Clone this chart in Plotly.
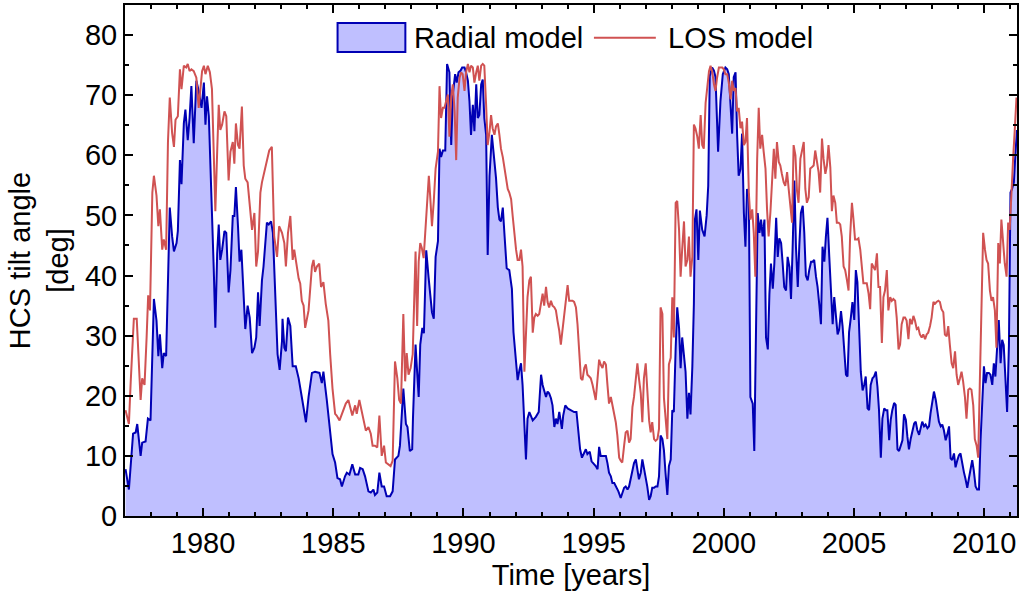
import plotly.graph_objects as go

# ---------------- data ----------------
radial_year = [
    1977.02, 1977.15, 1977.31, 1977.41, 1977.47, 1977.54, 1977.60, 1977.66, 1977.79, 1977.88,
    1977.98, 1978.11, 1978.21, 1978.28, 1978.34, 1978.43, 1978.49, 1978.58, 1978.72, 1978.81,
    1978.88, 1978.98, 1979.03, 1979.11, 1979.17, 1979.26, 1979.32, 1979.41, 1979.48, 1979.55,
    1979.64, 1979.74, 1979.83, 1979.94, 1980.03, 1980.09, 1980.15, 1980.22, 1980.31, 1980.41,
    1980.47, 1980.54, 1980.60, 1980.66, 1980.73, 1980.82, 1980.89, 1980.98, 1981.05, 1981.14,
    1981.20, 1981.26, 1981.34, 1981.40, 1981.47, 1981.56, 1981.62, 1981.71, 1981.79, 1981.88,
    1981.97, 1982.04, 1982.11, 1982.17, 1982.26, 1982.32, 1982.45, 1982.52, 1982.61, 1982.68,
    1982.77, 1982.86, 1982.94, 1983.03, 1983.05, 1983.12, 1983.18, 1983.26, 1983.35, 1983.44,
    1983.56, 1983.67, 1983.79, 1983.86, 1983.95, 1984.05, 1984.18, 1984.30, 1984.47, 1984.56,
    1984.62, 1984.75, 1984.88, 1984.97, 1985.07, 1985.16, 1985.26, 1985.33, 1985.45, 1985.52,
    1985.62, 1985.73, 1985.84, 1985.96, 1986.03, 1986.13, 1986.22, 1986.35, 1986.44, 1986.54,
    1986.60, 1986.69, 1986.77, 1986.86, 1986.95, 1987.05, 1987.18, 1987.28, 1987.37, 1987.50,
    1987.56, 1987.69, 1987.79, 1987.85, 1987.94, 1988.03, 1988.06, 1988.16, 1988.22, 1988.28,
    1988.34, 1988.42, 1988.48, 1988.57, 1988.66, 1988.72, 1988.79, 1988.86, 1988.93, 1989.02,
    1989.08, 1989.14, 1989.21, 1989.30, 1989.37, 1989.46, 1989.53, 1989.59, 1989.68, 1989.74,
    1989.81, 1989.89, 1989.95, 1990.04, 1990.10, 1990.17, 1990.23, 1990.29, 1990.36, 1990.42,
    1990.49, 1990.55, 1990.61, 1990.68, 1990.74, 1990.80, 1990.87, 1990.93, 1991.00, 1991.09,
    1991.15, 1991.25, 1991.32, 1991.38, 1991.44, 1991.51, 1991.58, 1991.66, 1991.76, 1991.86,
    1991.92, 1992.02, 1992.08, 1992.15, 1992.21, 1992.27, 1992.34, 1992.40, 1992.46, 1992.53,
    1992.66, 1992.78, 1992.89, 1992.98, 1993.04, 1993.10, 1993.17, 1993.23, 1993.29, 1993.36,
    1993.42, 1993.49, 1993.55, 1993.61, 1993.68, 1993.74, 1993.78, 1993.83, 1993.91, 1994.00,
    1994.12, 1994.25, 1994.34, 1994.41, 1994.48, 1994.55, 1994.64, 1994.70, 1994.76, 1994.85,
    1994.92, 1994.99, 1995.08, 1995.15, 1995.21, 1995.27, 1995.34, 1995.40, 1995.47, 1995.53,
    1995.59, 1995.66, 1995.72, 1995.79, 1995.87, 1995.95, 1996.04, 1996.10, 1996.17, 1996.23,
    1996.30, 1996.36, 1996.42, 1996.49, 1996.55, 1996.62, 1996.68, 1996.74, 1996.81, 1996.87,
    1996.93, 1997.00, 1997.06, 1997.13, 1997.19, 1997.25, 1997.32, 1997.38, 1997.45, 1997.51,
    1997.57, 1997.64, 1997.70, 1997.76, 1997.83, 1997.89, 1997.96, 1998.02, 1998.08, 1998.15,
    1998.21, 1998.28, 1998.34, 1998.40, 1998.47, 1998.53, 1998.60, 1998.66, 1998.72, 1998.79,
    1998.85, 1998.89, 1998.95, 1999.02, 1999.08, 1999.17, 1999.26, 1999.34, 1999.40, 1999.46,
    1999.55, 1999.62, 1999.68, 1999.78, 1999.87, 1999.96, 2000.06, 2000.13, 2000.19, 2000.26,
    2000.32, 2000.38, 2000.45, 2000.51, 2000.57, 2000.64, 2000.70, 2000.77, 2000.83, 2000.89,
    2000.96, 2001.02, 2001.11, 2001.17, 2001.24, 2001.30, 2001.37, 2001.43, 2001.49, 2001.56,
    2001.62, 2001.69, 2001.75, 2001.81, 2001.88, 2001.94, 2002.01, 2002.07, 2002.13, 2002.20,
    2002.26, 2002.32, 2002.39, 2002.45, 2002.52, 2002.58, 2002.64, 2002.71, 2002.77, 2002.84,
    2002.90, 2002.96, 2003.03, 2003.09, 2003.15, 2003.22, 2003.28, 2003.35, 2003.41, 2003.47,
    2003.54, 2003.60, 2003.67, 2003.73, 2003.79, 2003.86, 2003.92, 2003.98, 2004.05, 2004.11,
    2004.18, 2004.24, 2004.30, 2004.37, 2004.43, 2004.50, 2004.56, 2004.62, 2004.69, 2004.75,
    2004.81, 2004.88, 2004.94, 2005.01, 2005.07, 2005.13, 2005.20, 2005.26, 2005.33, 2005.39,
    2005.45, 2005.52, 2005.58, 2005.64, 2005.71, 2005.77, 2005.84, 2005.90, 2005.96, 2006.03,
    2006.09, 2006.16, 2006.22, 2006.28, 2006.35, 2006.41, 2006.47, 2006.54, 2006.60, 2006.67,
    2006.73, 2006.79, 2006.86, 2006.92, 2006.99, 2007.05, 2007.11, 2007.18, 2007.24, 2007.31,
    2007.37, 2007.43, 2007.50, 2007.56, 2007.62, 2007.69, 2007.75, 2007.82, 2007.88, 2007.94,
    2008.01, 2008.07, 2008.14, 2008.20, 2008.26, 2008.33, 2008.39, 2008.45, 2008.52, 2008.58,
    2008.65, 2008.71, 2008.77, 2008.84, 2008.90, 2008.97, 2009.03, 2009.09, 2009.16, 2009.22,
    2009.28, 2009.35, 2009.41, 2009.48, 2009.54, 2009.60, 2009.67, 2009.73, 2009.80, 2009.86,
    2009.92, 2009.99, 2010.05, 2010.11, 2010.18, 2010.24, 2010.31, 2010.37, 2010.43, 2010.50,
    2010.56, 2010.63, 2010.69, 2010.75, 2010.82, 2010.88, 2010.95, 2011.01, 2011.07, 2011.14,
    2011.20, 2011.26,
]
radial_deg = [
    7.8, 4.4, 13.7, 13.9, 15.3, 11.7, 10.0, 12.2, 12.4, 16.2,
    15.9, 36.1, 32.5, 26.6, 30.2, 24.6, 27.1, 26.6, 51.3, 46.5,
    44.0, 45.4, 47.4, 59.2, 55.2, 65.3, 67.6, 62.5, 66.2, 71.5,
    62.0, 72.4, 70.7, 67.9, 72.1, 65.1, 69.8, 66.5, 55.5, 40.9,
    31.3, 43.7, 48.5, 42.6, 44.3, 47.4, 47.1, 37.2, 40.9, 49.9,
    49.9, 54.7, 48.2, 42.3, 44.3, 36.4, 31.1, 35.0, 33.0, 27.1,
    28.0, 29.7, 37.2, 31.6, 39.2, 41.5, 48.8, 48.5, 49.0, 47.1,
    35.3, 26.9, 24.3, 29.1, 32.8, 28.0, 27.4, 33.0, 31.6, 24.9,
    24.9, 22.9, 19.8, 18.1, 15.6, 19.8, 23.8, 24.0, 23.8, 22.1,
    24.0, 19.3, 14.5, 10.3, 8.9, 6.3, 6.1, 4.9, 6.6, 7.2,
    6.9, 8.6, 6.9, 6.9, 8.0, 7.8, 6.6, 4.1, 3.9, 4.4,
    3.5, 3.9, 7.2, 4.9, 4.9, 3.3, 3.3, 4.1, 9.4, 10.0,
    11.7, 21.2, 15.3, 14.8, 10.8, 11.1, 16.2, 28.5, 24.0, 19.8,
    28.5, 31.3, 30.4, 44.2, 39.7, 36.4, 33.9, 32.8, 43.1, 45.7,
    61.1, 59.7, 60.8, 60.8, 75.2, 73.8, 61.7, 70.1, 73.5, 72.1,
    73.8, 74.1, 74.6, 74.6, 73.8, 72.4, 69.0, 63.4, 68.4, 64.0,
    71.8, 66.2, 66.7, 71.8, 72.6, 66.2, 63.4, 43.4, 56.6, 63.4,
    60.6, 56.2, 51.3, 49.3, 49.0, 51.3, 46.5, 41.2, 40.9, 37.8,
    30.6, 25.6, 22.6, 24.3, 25.4, 21.8, 14.8, 9.4, 16.2, 17.3,
    15.9, 16.5, 17.3, 23.5, 21.8, 20.7, 19.8, 20.7, 20.4, 19.6,
    18.4, 14.8, 16.2, 15.3, 17.3, 15.6, 14.5, 16.7, 18.4, 17.9,
    17.6, 17.3, 17.3, 14.5, 11.1, 9.7, 10.7, 11.1, 10.3, 10.7,
    9.1, 8.8, 8.3, 7.8, 11.5, 10.0, 10.0, 10.0, 10.0, 8.8,
    7.2, 6.6, 5.5, 5.5, 4.9, 4.1, 3.0, 3.8, 4.7, 4.9,
    4.4, 4.9, 6.1, 7.2, 8.8, 9.4, 8.0, 6.1, 7.2, 9.4,
    8.0, 6.6, 4.9, 2.7, 3.3, 4.7, 4.7, 4.9, 4.9, 6.6,
    13.4, 12.8, 10.9, 7.2, 3.5, 8.3, 9.4, 17.6, 17.3, 28.0,
    34.7, 31.3, 24.6, 29.7, 27.1, 24.0, 16.2, 20.5, 16.9, 24.8,
    35.3, 49.3, 51.0, 42.6, 50.8, 47.6, 46.5, 50.0, 54.9, 73.2,
    74.6, 74.1, 73.0, 60.6, 69.0, 73.5, 74.6, 74.3, 73.5, 67.9,
    63.6, 73.0, 73.8, 63.4, 56.6, 57.7, 63.6, 50.4, 44.8, 54.4,
    53.3, 19.8, 18.7, 10.8, 36.7, 50.4, 47.1, 49.3, 46.5, 49.3,
    29.7, 27.7, 36.9, 42.0, 37.8, 42.0, 49.6, 43.1, 46.2, 45.4,
    42.0, 38.1, 37.5, 43.1, 41.4, 36.1, 44.2, 55.8, 44.8, 38.1,
    45.1, 50.4, 51.6, 47.1, 40.0, 39.2, 40.9, 42.3, 42.3, 42.6,
    39.8, 38.1, 35.0, 31.9, 44.8, 42.3, 46.5, 49.6, 43.1, 37.8,
    31.9, 36.4, 33.9, 30.2, 31.0, 34.1, 31.6, 28.0, 23.5, 23.2,
    30.6, 33.1, 35.6, 32.6, 40.9, 38.9, 31.3, 24.0, 20.9, 21.8,
    23.2, 17.9, 17.6, 21.8, 22.9, 23.2, 24.0, 21.5, 17.6, 9.7,
    16.2, 17.9, 17.6, 17.6, 12.6, 16.0, 17.6, 18.8, 18.5, 11.1,
    10.8, 11.7, 12.6, 16.9, 16.0, 13.2, 11.1, 12.9, 14.0, 15.4,
    15.7, 14.3, 13.5, 14.6, 15.7, 14.9, 15.2, 14.6, 14.9, 17.1,
    19.3, 20.7, 19.3, 17.3, 15.7, 14.9, 15.2, 14.3, 12.6, 13.5,
    14.9, 9.6, 9.3, 10.4, 8.1, 9.3, 10.1, 10.4, 8.4, 7.3,
    6.2, 4.7, 6.2, 7.9, 9.3, 7.6, 4.9, 4.4, 4.4, 12.6,
    19.8, 24.9, 22.1, 23.8, 23.8, 23.5, 21.8, 25.4, 23.2, 27.9,
    32.6, 25.4, 29.3, 28.4, 22.2, 17.3, 28.4, 53.8, 54.4, 55.5,
    60.3, 64.2,
]

los_year = [
    1977.02, 1977.15, 1977.22, 1977.28, 1977.34, 1977.45, 1977.54, 1977.60, 1977.66, 1977.75,
    1977.83, 1977.89, 1977.96, 1978.05, 1978.11, 1978.21, 1978.28, 1978.34, 1978.43, 1978.49,
    1978.58, 1978.65, 1978.72, 1978.81, 1978.88, 1978.94, 1979.03, 1979.11, 1979.17, 1979.26,
    1979.35, 1979.41, 1979.48, 1979.55, 1979.64, 1979.74, 1979.83, 1979.90, 1979.96, 1980.03,
    1980.09, 1980.18, 1980.26, 1980.34, 1980.41, 1980.47, 1980.54, 1980.60, 1980.66, 1980.73,
    1980.82, 1980.89, 1980.98, 1981.05, 1981.14, 1981.20, 1981.26, 1981.34, 1981.40, 1981.49,
    1981.56, 1981.62, 1981.71, 1981.79, 1981.88, 1981.97, 1982.04, 1982.11, 1982.20, 1982.26,
    1982.35, 1982.45, 1982.54, 1982.64, 1982.73, 1982.84, 1982.92, 1983.03, 1983.12, 1983.18,
    1983.26, 1983.35, 1983.44, 1983.50, 1983.60, 1983.67, 1983.73, 1983.79, 1983.86, 1983.92,
    1984.05, 1984.18, 1984.24, 1984.30, 1984.37, 1984.46, 1984.53, 1984.62, 1984.71, 1984.81,
    1984.88, 1984.97, 1985.07, 1985.13, 1985.24, 1985.33, 1985.39, 1985.48, 1985.58, 1985.64,
    1985.73, 1985.84, 1985.90, 1986.00, 1986.09, 1986.18, 1986.25, 1986.35, 1986.44, 1986.51,
    1986.60, 1986.69, 1986.77, 1986.86, 1986.95, 1987.02, 1987.11, 1987.20, 1987.28, 1987.37,
    1987.46, 1987.53, 1987.60, 1987.69, 1987.76, 1987.82, 1987.89, 1987.97, 1988.05, 1988.16,
    1988.22, 1988.28, 1988.34, 1988.40, 1988.47, 1988.54, 1988.61, 1988.67, 1988.72, 1988.79,
    1988.86, 1988.93, 1989.02, 1989.08, 1989.14, 1989.21, 1989.27, 1989.34, 1989.40, 1989.46,
    1989.53, 1989.59, 1989.66, 1989.72, 1989.78, 1989.85, 1989.91, 1989.97, 1990.04, 1990.10,
    1990.17, 1990.23, 1990.29, 1990.36, 1990.42, 1990.49, 1990.55, 1990.61, 1990.68, 1990.74,
    1990.80, 1990.87, 1990.93, 1991.00, 1991.06, 1991.12, 1991.19, 1991.25, 1991.32, 1991.38,
    1991.44, 1991.51, 1991.57, 1991.63, 1991.70, 1991.76, 1991.83, 1991.89, 1991.95, 1992.02,
    1992.08, 1992.15, 1992.21, 1992.27, 1992.34, 1992.40, 1992.46, 1992.53, 1992.59, 1992.66,
    1992.72, 1992.78, 1992.85, 1992.91, 1992.98, 1993.04, 1993.10, 1993.17, 1993.23, 1993.29,
    1993.36, 1993.42, 1993.49, 1993.55, 1993.61, 1993.68, 1993.74, 1993.81, 1993.87, 1993.93,
    1994.00, 1994.06, 1994.12, 1994.19, 1994.25, 1994.32, 1994.38, 1994.44, 1994.51, 1994.57,
    1994.64, 1994.70, 1994.76, 1994.83, 1994.89, 1994.96, 1995.02, 1995.08, 1995.15, 1995.21,
    1995.27, 1995.34, 1995.40, 1995.47, 1995.53, 1995.59, 1995.66, 1995.72, 1995.79, 1995.85,
    1995.91, 1995.98, 1996.04, 1996.10, 1996.17, 1996.23, 1996.30, 1996.36, 1996.42, 1996.49,
    1996.55, 1996.62, 1996.68, 1996.74, 1996.81, 1996.87, 1996.93, 1997.00, 1997.06, 1997.13,
    1997.19, 1997.25, 1997.32, 1997.38, 1997.45, 1997.51, 1997.57, 1997.64, 1997.70, 1997.76,
    1997.83, 1997.89, 1997.96, 1998.02, 1998.08, 1998.15, 1998.21, 1998.28, 1998.34, 1998.40,
    1998.47, 1998.53, 1998.60, 1998.66, 1998.72, 1998.79, 1998.85, 1998.91, 1998.98, 1999.04,
    1999.11, 1999.17, 1999.23, 1999.30, 1999.36, 1999.43, 1999.49, 1999.55, 1999.62, 1999.68,
    1999.74, 1999.81, 1999.87, 1999.94, 2000.00, 2000.06, 2000.13, 2000.19, 2000.26, 2000.32,
    2000.38, 2000.45, 2000.51, 2000.57, 2000.64, 2000.70, 2000.77, 2000.83, 2000.89, 2000.96,
    2001.02, 2001.09, 2001.15, 2001.21, 2001.28, 2001.34, 2001.40, 2001.47, 2001.53, 2001.60,
    2001.66, 2001.72, 2001.79, 2001.85, 2001.92, 2001.98, 2002.04, 2002.11, 2002.17, 2002.23,
    2002.30, 2002.36, 2002.43, 2002.49, 2002.55, 2002.62, 2002.68, 2002.75, 2002.81, 2002.87,
    2002.94, 2003.00, 2003.07, 2003.13, 2003.19, 2003.26, 2003.32, 2003.38, 2003.45, 2003.51,
    2003.58, 2003.64, 2003.70, 2003.77, 2003.83, 2003.90, 2003.96, 2004.02, 2004.09, 2004.15,
    2004.21, 2004.28, 2004.34, 2004.41, 2004.47, 2004.53, 2004.60, 2004.66, 2004.73, 2004.79,
    2004.85, 2004.92, 2004.98, 2005.04, 2005.11, 2005.17, 2005.24, 2005.30, 2005.36, 2005.43,
    2005.49, 2005.56, 2005.62, 2005.68, 2005.75, 2005.81, 2005.88, 2005.94, 2006.00, 2006.07,
    2006.13, 2006.19, 2006.26, 2006.32, 2006.39, 2006.45, 2006.51, 2006.58, 2006.64, 2006.71,
    2006.77, 2006.83, 2006.90, 2006.96, 2007.02, 2007.09, 2007.15, 2007.22, 2007.28, 2007.34,
    2007.41, 2007.47, 2007.53, 2007.60, 2007.66, 2007.73, 2007.79, 2007.85, 2007.92, 2007.98,
    2008.05, 2008.11, 2008.17, 2008.24, 2008.30, 2008.36, 2008.43, 2008.49, 2008.56, 2008.62,
    2008.68, 2008.75, 2008.81, 2008.88, 2008.94, 2009.00, 2009.07, 2009.13, 2009.19, 2009.26,
    2009.32, 2009.39, 2009.45, 2009.51, 2009.58, 2009.64, 2009.71, 2009.77, 2009.83, 2009.90,
    2009.96, 2010.03, 2010.09, 2010.15, 2010.22, 2010.28, 2010.34, 2010.41, 2010.47, 2010.54,
    2010.60, 2010.66, 2010.73, 2010.79, 2010.86, 2010.92, 2010.98, 2011.05, 2011.11, 2011.17,
    2011.24,
]
los_deg = [
    17.6, 15.3, 22.4, 28.0, 32.8, 32.8, 24.0, 19.3, 22.9, 21.8,
    29.7, 36.7, 34.2, 53.8, 56.6, 53.3, 48.2, 51.0, 44.3, 46.0,
    44.3, 62.2, 69.6, 63.7, 61.4, 65.9, 66.5, 74.3, 71.0, 74.9,
    74.6, 75.2, 74.0, 74.3, 74.0, 72.9, 67.9, 71.8, 74.0, 74.9,
    73.5, 74.9, 73.8, 71.0, 60.6, 50.7, 60.6, 68.4, 64.2, 65.1,
    67.3, 66.5, 55.8, 60.6, 62.2, 58.6, 65.3, 61.7, 61.1, 68.1,
    58.3, 56.1, 55.5, 51.6, 47.6, 50.4, 41.5, 44.0, 53.8, 55.5,
    57.2, 58.9, 60.8, 61.4, 46.5, 43.1, 48.2, 47.1, 45.4, 41.5,
    47.1, 49.9, 42.6, 44.3, 41.5, 39.5, 38.7, 35.8, 35.0, 31.3,
    34.2, 41.5, 42.6, 40.6, 41.5, 42.0, 38.1, 38.9, 35.3, 32.5,
    26.9, 21.2, 17.0, 16.7, 15.9, 17.0, 17.9, 18.7, 19.3, 18.4,
    16.7, 18.4, 17.0, 19.3, 17.3, 15.6, 14.2, 14.8, 13.7, 11.7,
    11.7, 11.4, 16.7, 10.0, 11.7, 8.9, 8.6, 8.3, 9.2, 25.7,
    22.9, 19.3, 18.7, 33.6, 22.4, 27.1, 23.5, 24.6, 26.9, 44.0,
    31.6, 42.3, 45.4, 44.6, 42.9, 47.1, 52.1, 56.6, 53.3, 48.2,
    52.4, 57.8, 60.6, 71.5, 66.2, 67.9, 67.9, 69.0, 70.1, 63.1,
    69.8, 71.8, 67.3, 59.2, 69.6, 72.9, 73.8, 73.5, 70.7, 73.8,
    75.2, 73.8, 74.9, 74.6, 72.1, 73.8, 74.9, 72.4, 74.9, 75.2,
    74.9, 68.4, 61.7, 63.9, 66.7, 64.5, 63.4, 64.8, 65.3, 63.4,
    61.1, 59.7, 58.0, 56.1, 54.4, 53.8, 52.7, 49.9, 47.1, 44.3,
    42.6, 42.6, 44.3, 41.5, 24.0, 31.9, 36.4, 39.2, 39.8, 30.5,
    33.0, 33.6, 33.3, 33.6, 35.6, 37.0, 35.0, 38.1, 35.6, 34.7,
    35.8, 35.0, 34.7, 34.2, 32.5, 30.8, 28.5, 31.3, 34.2, 36.4,
    38.4, 35.8, 35.8, 35.8, 35.6, 34.7, 31.9, 26.9, 22.9, 22.6,
    24.6, 25.2, 23.5, 23.2, 22.9, 21.8, 20.7, 19.3, 22.9, 26.0,
    25.2, 24.6, 25.7, 25.2, 21.8, 18.7, 19.8, 18.4, 17.3, 15.6,
    13.4, 9.7, 9.2, 8.9, 11.7, 13.9, 14.2, 12.2, 12.8, 18.1,
    19.8, 22.9, 25.4, 22.9, 20.4, 15.6, 22.9, 25.4, 20.7, 15.9,
    13.9, 15.6, 12.8, 12.5, 12.8, 14.5, 34.7, 33.6, 19.6, 16.2,
    12.8, 25.2, 26.3, 36.4, 29.7, 52.1, 52.4, 47.6, 39.8, 44.3,
    49.0, 41.5, 42.6, 46.5, 39.8, 43.1, 65.1, 64.5, 63.1, 61.1,
    66.7, 61.7, 61.1, 68.7, 70.7, 74.0, 74.9, 74.0, 71.8, 70.7,
    72.9, 74.6, 74.6, 74.6, 74.3, 73.5, 73.5, 72.1, 69.3, 72.4,
    70.7, 71.2, 67.3, 67.9, 64.5, 65.6, 61.7, 62.2, 66.2, 53.8,
    49.3, 51.0, 47.1, 39.8, 59.4, 67.9, 61.1, 63.4, 60.6, 57.8,
    51.0, 46.5, 50.6, 56.6, 61.1, 56.1, 62.2, 58.9, 58.3, 56.9,
    55.5, 54.9, 57.2, 54.4, 52.1, 48.8, 61.7, 60.0, 54.1, 52.1,
    59.4, 60.6, 62.2, 54.4, 52.1, 53.0, 57.8, 58.0, 58.3, 60.8,
    58.9, 57.2, 53.8, 62.8, 59.4, 56.9, 58.3, 61.7, 58.0, 50.7,
    53.3, 52.1, 48.8, 48.8, 48.5, 46.5, 41.5, 40.9, 39.2, 37.5,
    46.5, 52.1, 49.3, 46.0, 46.0, 46.2, 44.3, 42.0, 38.7, 38.7,
    38.7, 37.0, 34.4, 42.0, 41.5, 40.9, 43.7, 38.1, 38.1, 28.8,
    36.4, 37.5, 40.9, 34.2, 36.4, 35.8, 36.1, 35.8, 33.0, 27.7,
    28.5, 31.9, 33.0, 33.0, 32.5, 29.4, 32.8, 31.9, 33.3, 32.5,
    31.1, 31.3, 30.2, 29.7, 30.2, 29.4, 30.2, 30.5, 31.6, 33.0,
    35.6, 35.3, 35.6, 35.8, 35.6, 34.4, 33.9, 30.2, 29.9, 31.6,
    28.5, 25.4, 24.6, 27.4, 23.5, 21.8, 22.9, 24.0, 22.4, 19.8,
    16.2, 21.0, 21.2, 21.0, 18.4, 12.8, 11.7, 9.7, 21.8, 33.6,
    47.1, 44.3, 42.6, 42.0, 37.5, 35.8, 36.4, 34.2, 28.0, 45.4,
    42.0, 49.3, 44.3, 42.0, 39.8, 48.8, 47.6, 54.9, 59.4, 63.9,
    69.6,
]

series_names = ["Radial model", "LOS model"]
x_ticks = [1980, 1985, 1990, 1995, 2000, 2005, 2010]
y_ticks = [0, 10, 20, 30, 40, 50, 60, 70, 80]

# ---------------- styling ----------------
FONT = "Liberation Sans, Arial, Helvetica, sans-serif"
FS = 29
FILL = "rgb(191,191,255)"
BLUE = "rgb(0,0,180)"
RED = "rgb(208,82,82)"

fig = go.Figure()
fig.add_trace(go.Scatter(
    x=radial_year, y=radial_deg, name=series_names[0], mode="lines",
    fill="tozeroy", fillcolor=FILL, line=dict(color=BLUE, width=2),
    showlegend=False,
))
fig.add_trace(go.Scatter(
    x=los_year, y=los_deg, name=series_names[1], mode="lines",
    line=dict(color=RED, width=2), showlegend=False,
))

axis_common = dict(
    showline=True, linecolor="black", linewidth=2, mirror="ticks",
    ticks="inside", ticklen=8, tickwidth=1.5, tickcolor="black",
    showgrid=False, zeroline=False,
    tickfont=dict(family=FONT, size=FS, color="black"),
)

fig.update_xaxes(
    range=[1977.0, 2011.26], tickvals=x_ticks,
    minor=dict(dtick=1, tick0=1980, ticks="inside", ticklen=4, tickwidth=1.5, tickcolor="black"),
    title=dict(text="Time [years]", font=dict(family=FONT, size=FS, color="black"), standoff=0),
    **axis_common,
)
fig.update_yaxes(
    range=[0, 85], tickvals=y_ticks,
    minor=dict(dtick=5, tick0=0, ticks="inside", ticklen=4, tickwidth=1.5, tickcolor="black"),
    title=dict(text="HCS tilt angle<br>[deg]", font=dict(family=FONT, size=FS, color="black"), standoff=8),
    **axis_common,
)

# legend drawn at the top centre, as in the reference
fig.add_shape(type="rect", xref="paper", yref="paper",
              x0=0.2383, x1=0.3143, y0=0.908, y1=0.965,
              fillcolor=FILL, line=dict(color=BLUE, width=2))
fig.add_shape(type="line", xref="paper", yref="paper",
              x0=0.5257, x1=0.5951, y0=0.936, y1=0.936,
              line=dict(color=RED, width=2))
fig.add_annotation(text=series_names[0], xref="paper", yref="paper", x=0.3220, y=0.936,
                   xanchor="left", yanchor="middle", showarrow=False,
                   font=dict(family=FONT, size=FS, color="black"))
fig.add_annotation(text=series_names[1], xref="paper", yref="paper", x=0.6060, y=0.936,
                   xanchor="left", yanchor="middle", showarrow=False,
                   font=dict(family=FONT, size=FS, color="black"))

fig.update_layout(
    width=1020, height=593,
    margin=dict(l=125, r=1, t=5, b=77),
    plot_bgcolor="white", paper_bgcolor="white",
    font=dict(family=FONT, color="black"),
)

fig.write_html("out.html")
